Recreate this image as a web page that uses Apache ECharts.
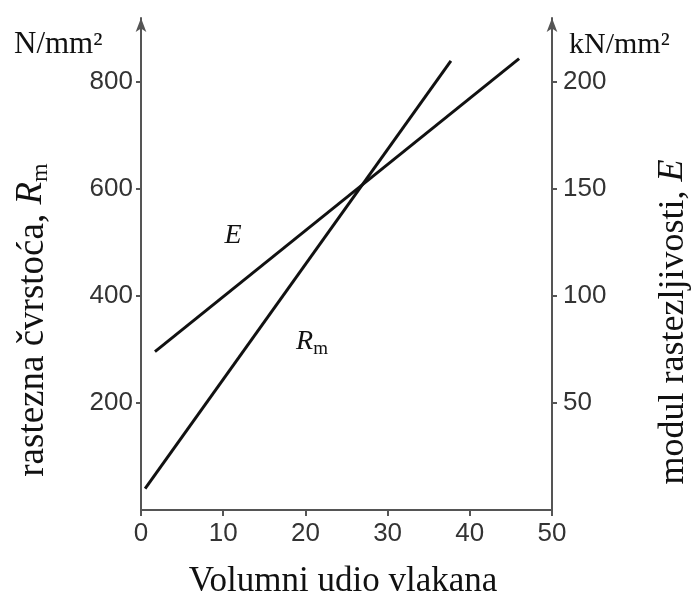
<!DOCTYPE html>
<html>
<head>
<meta charset="utf-8">
<script src="https://cdn.jsdelivr.net/npm/echarts@6/dist/echarts.min.js"></script>
<style>
  html, body { margin: 0; padding: 0; background: #fff; }
  #chart { width: 700px; height: 603px; }
</style>
</head>
<body>
<div id="chart"></div>
<script>
// volumni udio vlakana (%) -> rastezna čvrstoća Rm (N/mm2)
var rmX = [0.5, 37.7];
var rmY = [40, 840];
// volumni udio vlakana (%) -> modul E (kN/mm2)
var eX = [1.7, 46];
var eY = [74, 211];

var xTicks = [0, 10, 20, 30, 40, 50];
var leftTicks = [200, 400, 600, 800];
var rightTicks = [50, 100, 150, 200];

var serif = '"Liberation Serif", "DejaVu Serif", serif';
var sans = '"Liberation Sans", Arial, sans-serif';
var axisCol = '#555';
var lineCol = '#111';

function pairs(xs, ys) {
    var out = [];
    for (var i = 0; i < xs.length; i++) out.push([xs[i], ys[i]]);
    return out;
}

// rich styles for italic symbol + subscript
function subRich(big, small) {
    return {
        i: { fontFamily: serif, fontStyle: 'italic', fontSize: big, lineHeight: big + 3, verticalAlign: 'top', color: '#111' },
        s: { fontFamily: serif, fontSize: small, lineHeight: small, verticalAlign: 'bottom', color: '#111' }
    };
}

var chart = echarts.init(document.getElementById('chart'));

chart.setOption({
    animation: false,
    backgroundColor: '#fff',
    grid: { left: 141, right: 148, top: 18, bottom: 93 },
    xAxis: {
        type: 'value',
        min: xTicks[0],
        max: xTicks[xTicks.length - 1],
        interval: 10,
        axisLine: { lineStyle: { color: axisCol, width: 2 } },
        axisTick: { show: true, length: 6, lineStyle: { color: axisCol, width: 2 } },
        axisLabel: { fontFamily: sans, fontSize: 26, color: '#333', margin: 11 },
        splitLine: { show: false }
    },
    yAxis: [
        {
            type: 'value',
            position: 'left',
            min: 0,
            max: 920,
            axisLine: { show: true, symbol: ['none', 'arrow'], symbolSize: [8, 14], lineStyle: { color: axisCol, width: 2 } },
            axisTick: { show: true, length: 5, customValues: leftTicks, lineStyle: { color: axisCol, width: 2 } },
            axisLabel: { customValues: leftTicks, fontFamily: sans, fontSize: 26, color: '#333', margin: 8 },
            splitLine: { show: false }
        },
        {
            type: 'value',
            position: 'right',
            min: 0,
            max: 230,
            axisLine: { show: true, symbol: ['none', 'arrow'], symbolSize: [8, 14], lineStyle: { color: axisCol, width: 2 } },
            axisTick: { show: true, length: 5, customValues: rightTicks, lineStyle: { color: axisCol, width: 2 } },
            axisLabel: { customValues: rightTicks, fontFamily: sans, fontSize: 26, color: '#333', margin: 11 },
            splitLine: { show: false }
        }
    ],
    series: [
        {
            name: 'Rm',
            type: 'line',
            yAxisIndex: 0,
            data: pairs(rmX, rmY),
            showSymbol: false,
            lineStyle: { color: lineCol, width: 3 },
            markPoint: {
                symbol: 'circle',
                symbolSize: 1,
                itemStyle: { color: 'rgba(0,0,0,0)' },
                label: { show: true, position: 'inside', formatter: '{i|R}{s|m}', rich: subRich(28, 19) },
                data: [{ coord: [20.8, 312] }]
            }
        },
        {
            name: 'E',
            type: 'line',
            yAxisIndex: 1,
            data: pairs(eX, eY),
            showSymbol: false,
            lineStyle: { color: lineCol, width: 3 },
            markPoint: {
                symbol: 'circle',
                symbolSize: 1,
                itemStyle: { color: 'rgba(0,0,0,0)' },
                label: { show: true, position: 'inside', formatter: '{i|E}', rich: subRich(28, 19) },
                data: [{ coord: [11.2, 127.5] }]
            }
        }
    ],
    graphic: [
        { type: 'text', x: 14, y: 45, style: { text: 'N/mm²', font: '31px ' + serif, fill: '#111', align: 'left', verticalAlign: 'middle' } },
        { type: 'text', x: 569, y: 45, style: { text: 'kN/mm²', font: '30px ' + serif, fill: '#111', align: 'left', verticalAlign: 'middle' } },
        { type: 'text', x: 33, y: 320, rotation: Math.PI / 2,
          style: { text: 'rastezna čvrstoća, {i|R}{s|m}', font: '37px ' + serif, fill: '#111', align: 'center', verticalAlign: 'middle', rich: subRich(37, 24) } },
        { type: 'text', x: 674, y: 322, rotation: Math.PI / 2,
          style: { text: 'modul rastezljivosti, {i|E}', font: '36px ' + serif, fill: '#111', align: 'center', verticalAlign: 'middle', rich: subRich(36, 24) } },
        { type: 'text', x: 343, y: 582, style: { text: 'Volumni udio vlakana', font: '35px ' + serif, fill: '#111', align: 'center', verticalAlign: 'middle' } }
    ]
});
</script>
</body>
</html>
